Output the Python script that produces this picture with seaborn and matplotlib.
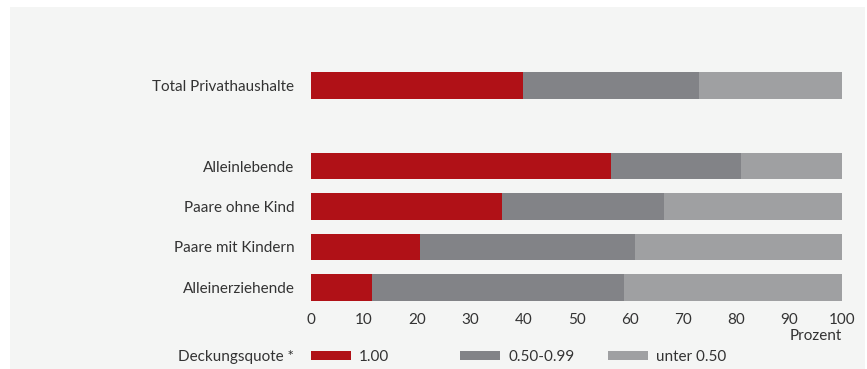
import seaborn as sns
import matplotlib.pyplot as plt
import matplotlib.patches as mpatches
import numpy as np
import pandas as pd

sns.set_style('white')
plt.rcParams['font.family'] = ['Lato', 'DejaVu Sans']

categories = ["Total Privathaushalte", "Alleinlebende", "Paare ohne Kind",
              "Paare mit Kindern", "Alleinerziehende"]
# Deckungsquote shares in percent
full = [40, 56.5, 36, 20.5, 11.5]        # 1.00
mid = [33, 24.5, 30.5, 40.5, 47.5]       # 0.50-0.99
low = [27, 19, 33.5, 39, 41]             # unter 0.50
legend_labels = ["1.00", "0.50-0.99", "unter 0.50"]
colors = ["#B01117", "#828387", "#9FA0A2"]
bg = "#F4F5F4"
txt = "#333333"
fs = 11

df = pd.DataFrame({"cat": categories, "full": full, "mid": mid, "low": low})
df["c1"] = df["full"]
df["c2"] = df["full"] + df["mid"]
df["c3"] = df["c2"] + df["low"]

order = [categories[0], " "] + categories[1:]

fig = plt.figure(figsize=(8.67, 3.69), dpi=100)
fig.patch.set_facecolor("white")
fig.patches.append(mpatches.Rectangle((10 / 867, 0), 855 / 867, 1 - 7 / 369,
                                      transform=fig.transFigure, facecolor=bg,
                                      edgecolor="none", zorder=-10))
ax = fig.add_axes([311 / 867, 0.1667, 531 / 867, 0.657])
ax.patch.set_alpha(0)

# stacked bars: draw cumulative totals back to front
for col, c in zip(["c3", "c2", "c1"], colors[::-1]):
    sns.barplot(data=df, x=col, y="cat", order=order, color=c, width=0.66,
                saturation=1, ax=ax, errorbar=None, linewidth=0)

ax.set_xlim(0, 100)
ax.set_xticks(np.arange(0, 101, 10))
ax.set_xlabel("")
ax.set_ylabel("")
sns.despine(ax=ax, left=True, bottom=True)
ax.tick_params(axis="both", length=0, labelsize=fs, colors=txt)
ax.tick_params(axis="y", pad=12)
ax.tick_params(axis="x", pad=4)

fig.text(842 / 867, 1 - 336 / 369, "Prozent", ha="right", va="center",
         fontsize=fs, color=txt)
fig.text(294 / 867, 1 - 357 / 369, "Deckungsquote *", ha="right", va="center",
         fontsize=fs, color=txt)

for lab, c, x0 in zip(legend_labels, colors, [311, 460, 608]):
    h = mpatches.Patch(facecolor=c, edgecolor="none")
    fig.legend([h], [lab], loc="center left",
               bbox_to_anchor=(x0 / 867, 1 - 357 / 369), frameon=False,
               fontsize=fs, handlelength=2.6, handleheight=0.5,
               handletextpad=0.55, borderpad=0, borderaxespad=0,
               labelcolor=txt)

fig.savefig("out.png", dpi=100, facecolor="white")
